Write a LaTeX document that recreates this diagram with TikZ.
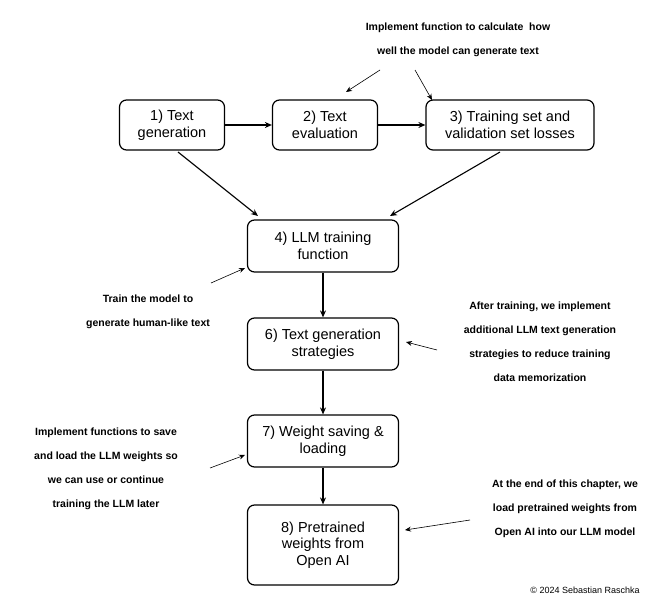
\documentclass[tikz,border=0pt]{standalone}
\usepackage{fontspec}
\setmainfont{Liberation Sans}
\usetikzlibrary{arrows.meta}
\begin{document}
\begin{tikzpicture}[x=1pt,y=-1pt,
 box/.style={draw,line width=1.2pt,rounded corners=7pt,align=center,font=\fontsize{14.5}{16.5}\selectfont,inner sep=0pt},
 note/.style={align=center,font=\bfseries\fontsize{10.5}{24}\selectfont},
 arr/.style={-{Stealth[length=7pt,width=6pt]},line width=1.1pt},
 thin/.style={-{Stealth[length=6pt,width=5pt]},line width=0.6pt}]
\useasboundingbox (0,0) rectangle (666,610);
\node[box,minimum width=105pt,minimum height=50pt] (b1) at (172,125) {1) Text\\generation};
\node[box,minimum width=105pt,minimum height=50pt] (b2) at (325,125) {2) Text\\evaluation};
\node[box,minimum width=168pt,minimum height=50pt] (b3) at (510,125) {3) Training set and\\validation set losses};
\node[box,minimum width=151pt,minimum height=52pt] (b4) at (323,246) {4) LLM training\\function};
\node[box,minimum width=151pt,minimum height=52pt] (b6) at (323,344) {6) Text generation\\strategies};
\node[box,minimum width=151pt,minimum height=52pt] (b7) at (323,441) {7) Weight saving \&\\loading};
\node[box,minimum width=151pt,minimum height=80pt] (b8) at (323,545) {8) Pretrained\\weights from\\Open AI};
\draw[arr] (b1) -- (b2);
\draw[arr] (b2) -- (b3);
\draw[arr] (178,152) -- (258,216);
\draw[arr] (500,152) -- (390,216);
\draw[arr] (b4) -- (b6);
\draw[arr] (b6) -- (b7);
\draw[arr] (b7) -- (b8);
\node[note] (n1) at (458,40) {Implement function to calculate\ \ how\\well the model can generate text};
\node[note] (n2) at (148,312) {Train the model to\\generate human-like text};
\node[note] (n3) at (540,342) {After training, we implement\\additional LLM text generation\\strategies to reduce training\\data memorization};
\node[note] (n4) at (106,469) {Implement functions to save\\and load the LLM weights so\\we can use or continue\\training the LLM later};
\node[note] (n5) at (565,509) {At the end of this chapter, we\\load pretrained weights from\\Open AI into our LLM model};
\coordinate (a1) at (380,70); \coordinate (a2) at (415,70);
\draw[thin] (a1) -- (346,92);
\draw[thin] (a2) -- (432,100);
\draw[thin] (211,283) -- (245,268);
\draw[thin] (437,350) -- (406,342);
\draw[thin] (210,468) -- (245,455);
\draw[thin] (470,520) -- (405,530);
\node[font=\fontsize{9}{10}\selectfont] (c) at (585,590) {© 2024 Sebastian Raschka};
\end{tikzpicture}
\end{document}
